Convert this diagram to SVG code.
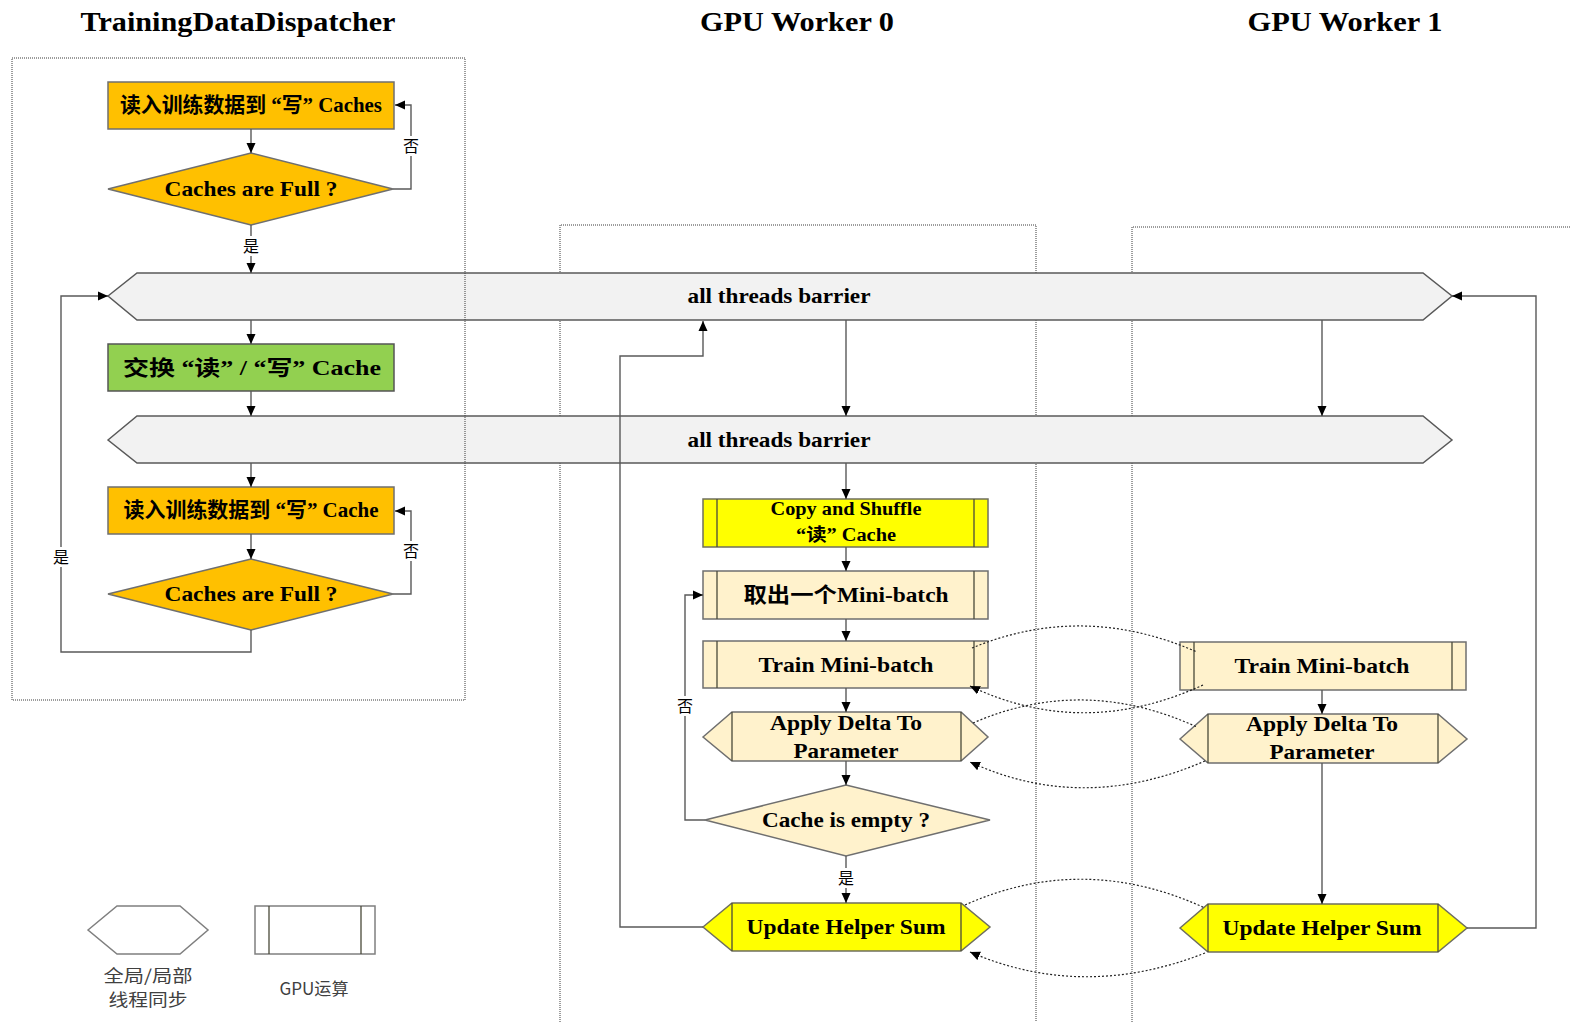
<svg xmlns="http://www.w3.org/2000/svg" width="1570" height="1022" viewBox="0 0 1570 1022">
  <style>
    .title { font-family: "Liberation Serif", "Noto Sans CJK SC", serif; font-weight: bold; font-size: 28px; fill: #000; text-anchor: middle; }
    .lbl { font-family: "Liberation Serif", "Noto Sans CJK SC", serif; font-weight: bold; font-size: 21px; fill: #000; text-anchor: middle; }
    .sm { font-size: 18px; }
    .yn { font-family: "Noto Sans CJK SC", sans-serif; font-size: 16px; fill: #000; text-anchor: middle; }
    .legend { font-family: "Noto Sans CJK SC", sans-serif; font-size: 17px; fill: #404040; text-anchor: middle; }
    .lane { fill: none; stroke: #3a3a3a; stroke-width: 1; stroke-dasharray: 1 1; }
    .bar { fill: #F2F2F2; stroke: #595959; stroke-width: 1.5; }
    .orange { fill: #FFC000; stroke: #6f6f6f; stroke-width: 1.5; }
    .green { fill: #92D050; stroke: #555; stroke-width: 1.5; }
    .beige { fill: #FFF2CC; stroke: #6f6f6f; stroke-width: 1.5; }
    .yellow { fill: #FFFF00; stroke: #6f6f5f; stroke-width: 1.5; }
    .plain { fill: #fff; stroke: #7f7f7f; stroke-width: 1.5; }
    .inner { stroke: #4a4a3a; stroke-width: 1.3; fill: none; }
    .flow { fill: none; stroke: #595959; stroke-width: 1.4; }
    .sync { fill: none; stroke: #222; stroke-width: 1.2; stroke-dasharray: 2 2; }
    .mask { fill: #fff; }
  </style>
  <defs>
    <marker id="ah" viewBox="0 0 10 10" refX="10" refY="5" markerWidth="10" markerHeight="10" markerUnits="userSpaceOnUse" orient="auto">
      <path d="M0,0.5 L10,5 L0,9.5 z" fill="#000"/>
    </marker>
  </defs>

  <!-- column headings -->
  <text class="title" x="238" y="31" textLength="315" lengthAdjust="spacingAndGlyphs">TrainingDataDispatcher</text>
  <text class="title" x="797" y="31" textLength="194" lengthAdjust="spacingAndGlyphs">GPU Worker 0</text>
  <text class="title" x="1345" y="31" textLength="195" lengthAdjust="spacingAndGlyphs">GPU Worker 1</text>

  <!-- worker lanes (behind the barriers) -->
  <g id="lanes">
    <path class="lane" d="M560,1022 V225 H1036 V1022"/>
    <path class="lane" d="M1132,1022 V227 H1570"/>
  </g>

  <!-- global barriers -->
  <g id="barrier1">
    <path class="bar" d="M108,296 L137,273 H1423 L1452,296 L1423,320 H137 Z"/>
    <text class="lbl" x="779" y="303" textLength="183" lengthAdjust="spacingAndGlyphs">all threads barrier</text>
  </g>
  <g id="barrier2">
    <path class="bar" d="M108,440 L137,416 H1423 L1452,440 L1423,463 H137 Z"/>
    <text class="lbl" x="779" y="447" textLength="183" lengthAdjust="spacingAndGlyphs">all threads barrier</text>
  </g>

  <!-- dispatcher lane -->
  <rect class="lane" x="12" y="58" width="453" height="642"/>

  <!-- dispatcher nodes -->
  <g id="load1">
    <rect class="orange" x="108" y="82" width="286" height="47"/>
    <text class="lbl" x="251" y="112" font-size="18" textLength="262" lengthAdjust="spacingAndGlyphs">读入训练数据到 “写” Caches</text>
  </g>
  <g id="full1">
    <polygon class="orange" points="108,189 251,153 393,189 251,225"/>
    <text class="lbl" x="251" y="196" textLength="173" lengthAdjust="spacingAndGlyphs">Caches are Full ?</text>
  </g>
  <g id="swap">
    <rect class="green" x="108" y="344" width="286" height="47"/>
    <text class="lbl" x="252" y="375" textLength="258" lengthAdjust="spacingAndGlyphs">交换 “读” / “写” Cache</text>
  </g>
  <g id="load2">
    <rect class="orange" x="108" y="487" width="286" height="47"/>
    <text class="lbl" x="251" y="517" font-size="18" textLength="255" lengthAdjust="spacingAndGlyphs">读入训练数据到 “写” Cache</text>
  </g>
  <g id="full2">
    <polygon class="orange" points="108,594 251,559 393,594 251,630"/>
    <text class="lbl" x="251" y="601" textLength="173" lengthAdjust="spacingAndGlyphs">Caches are Full ?</text>
  </g>

  <!-- GPU worker 0 nodes -->
  <g id="copy0">
    <rect class="yellow" x="703" y="499" width="285" height="48"/>
    <path class="inner" d="M717,499 V547 M974,499 V547"/>
    <text class="lbl sm" x="846" y="515" textLength="151" lengthAdjust="spacingAndGlyphs">Copy and Shuffle</text>
    <text class="lbl sm" x="846" y="541" textLength="100" lengthAdjust="spacingAndGlyphs">“读” Cache</text>
  </g>
  <g id="fetch0">
    <rect class="beige" x="703" y="571" width="285" height="48"/>
    <path class="inner" d="M717,571 V619 M974,571 V619"/>
    <text class="lbl" x="846" y="602" textLength="205" lengthAdjust="spacingAndGlyphs">取出一个Mini-batch</text>
  </g>
  <g id="train0">
    <rect class="beige" x="703" y="641" width="285" height="47"/>
    <path class="inner" d="M717,641 V688 M974,641 V688"/>
    <text class="lbl" x="846" y="672" textLength="175" lengthAdjust="spacingAndGlyphs">Train Mini-batch</text>
  </g>
  <g id="apply0">
    <polygon class="beige" points="703,737 732,712 961,712 988,737 961,761 732,761"/>
    <path class="inner" d="M732,712 V761 M961,712 V761"/>
    <text class="lbl" x="846" y="730" textLength="152" lengthAdjust="spacingAndGlyphs">Apply Delta To</text>
    <text class="lbl" x="846" y="758" textLength="105" lengthAdjust="spacingAndGlyphs">Parameter</text>
  </g>
  <g id="empty0">
    <polygon class="beige" points="705,820 846,785 990,820 846,856"/>
    <text class="lbl" x="846" y="827" textLength="168" lengthAdjust="spacingAndGlyphs">Cache is empty ?</text>
  </g>
  <g id="update0">
    <polygon class="yellow" points="703,927 732,903 961,903 990,927 961,951 732,951"/>
    <path class="inner" d="M732,903 V951 M961,903 V951"/>
    <text class="lbl" x="846" y="934" textLength="199" lengthAdjust="spacingAndGlyphs">Update Helper Sum</text>
  </g>

  <!-- GPU worker 1 nodes -->
  <g id="train1">
    <rect class="beige" x="1180" y="642" width="286" height="48"/>
    <path class="inner" d="M1194,642 V690 M1452,642 V690"/>
    <text class="lbl" x="1322" y="673" textLength="175" lengthAdjust="spacingAndGlyphs">Train Mini-batch</text>
  </g>
  <g id="apply1">
    <polygon class="beige" points="1180,739 1208,714 1438,714 1467,739 1438,763 1208,763"/>
    <path class="inner" d="M1208,714 V763 M1438,714 V763"/>
    <text class="lbl" x="1322" y="731" textLength="152" lengthAdjust="spacingAndGlyphs">Apply Delta To</text>
    <text class="lbl" x="1322" y="759" textLength="105" lengthAdjust="spacingAndGlyphs">Parameter</text>
  </g>
  <g id="update1">
    <polygon class="yellow" points="1180,928 1208,904 1438,904 1467,928 1438,952 1208,952"/>
    <path class="inner" d="M1208,904 V952 M1438,904 V952"/>
    <text class="lbl" x="1322" y="935" textLength="199" lengthAdjust="spacingAndGlyphs">Update Helper Sum</text>
  </g>

  <!-- connectors -->
  <g id="connectors">
    <!-- dispatcher flow -->
    <path class="flow" d="M251,129 V153" marker-end="url(#ah)"/>
    <path class="flow" d="M393,189 H411 V105 H395" marker-end="url(#ah)"/>
    <path class="flow" d="M251,225 V273" marker-end="url(#ah)"/>
    <path class="flow" d="M251,320 V344" marker-end="url(#ah)"/>
    <path class="flow" d="M251,391 V416" marker-end="url(#ah)"/>
    <path class="flow" d="M251,463 V487" marker-end="url(#ah)"/>
    <path class="flow" d="M251,534 V559" marker-end="url(#ah)"/>
    <path class="flow" d="M393,594 H411 V511 H395" marker-end="url(#ah)"/>
    <path class="flow" d="M251,630 V652 H61 V296 H108" marker-end="url(#ah)"/>
    <!-- worker 0 flow -->
    <path class="flow" d="M846,320 V416" marker-end="url(#ah)"/>
    <path class="flow" d="M846,463 V499" marker-end="url(#ah)"/>
    <path class="flow" d="M846,547 V571" marker-end="url(#ah)"/>
    <path class="flow" d="M846,619 V641" marker-end="url(#ah)"/>
    <path class="flow" d="M846,688 V712" marker-end="url(#ah)"/>
    <path class="flow" d="M846,761 V785" marker-end="url(#ah)"/>
    <path class="flow" d="M705,820 H685 V595 H703" marker-end="url(#ah)"/>
    <path class="flow" d="M846,856 V903" marker-end="url(#ah)"/>
    <path class="flow" d="M703,927 H620 V356 H703 V321" marker-end="url(#ah)"/>
    <!-- worker 1 flow -->
    <path class="flow" d="M1322,320 V416" marker-end="url(#ah)"/>
    <path class="flow" d="M1322,690 V714" marker-end="url(#ah)"/>
    <path class="flow" d="M1322,763 V904" marker-end="url(#ah)"/>
    <path class="flow" d="M1467,928 H1536 V296 H1452" marker-end="url(#ah)"/>
    <!-- inter-worker synchronisation -->
    <path class="sync" d="M972,648 Q1083,602 1197,652"/>
    <path class="sync" d="M1203,685 Q1083,740 970,686" marker-end="url(#ah)"/>
    <path class="sync" d="M973,723 Q1083,675 1197,727"/>
    <path class="sync" d="M1205,761 Q1083,814 970,762" marker-end="url(#ah)"/>
    <path class="sync" d="M965,905 Q1083,852 1205,908"/>
    <path class="sync" d="M1205,953 Q1083,1001 970,952" marker-end="url(#ah)"/>
    <!-- branch labels -->
    <rect class="mask" x="402" y="136" width="18" height="20"/>
    <text class="yn" x="411" y="152">否</text>
    <rect class="mask" x="242" y="236" width="18" height="20"/>
    <text class="yn" x="251" y="252">是</text>
    <rect class="mask" x="402" y="541" width="18" height="20"/>
    <text class="yn" x="411" y="557">否</text>
    <rect class="mask" x="52" y="547" width="18" height="20"/>
    <text class="yn" x="61" y="563">是</text>
    <rect class="mask" x="676" y="696" width="18" height="20"/>
    <text class="yn" x="685" y="712">否</text>
    <rect class="mask" x="837" y="868" width="18" height="20"/>
    <text class="yn" x="846" y="884">是</text>
  </g>

  <!-- legend -->
  <g id="legend-sync">
    <polygon class="plain" points="88,930 117,906 180,906 208,930 180,954 117,954"/>
    <text class="legend" x="148" y="982" textLength="89" lengthAdjust="spacingAndGlyphs">全局/局部</text>
    <text class="legend" x="148" y="1006" textLength="79" lengthAdjust="spacingAndGlyphs">线程同步</text>
  </g>
  <g id="legend-gpu">
    <rect class="plain" x="255" y="906" width="120" height="48"/>
    <path class="inner" d="M269,906 V954 M361,906 V954" stroke="#7f7f7f"/>
    <text class="legend" x="314" y="995" textLength="69" lengthAdjust="spacingAndGlyphs">GPU运算</text>
  </g>
</svg>
